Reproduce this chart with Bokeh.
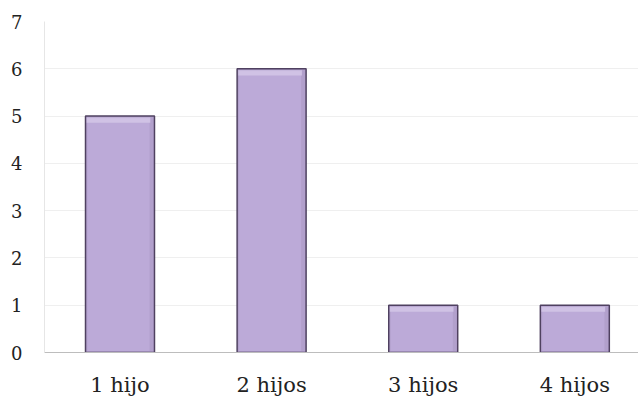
from bokeh.plotting import figure
from bokeh.models import Range1d, FixedTicker
from bokeh.embed import file_html
from bokeh.resources import INLINE

categories = ["1 hijo", "2 hijos", "3 hijos", "4 hijos"]
values = [5, 6, 1, 1]
y_ticks = [0, 1, 2, 3, 4, 5, 6, 7]

xs = list(range(1, len(categories) + 1))
FONT = "DejaVu Serif"

p = figure(width=638, height=399, output_backend="svg", toolbar_location=None,
           x_range=Range1d(0.502, 4.42), y_range=Range1d(0, 7))
p.min_border_left = 44
p.min_border_right = 0
p.min_border_top = 21
p.min_border_bottom = 47
p.outline_line_color = None
p.background_fill_color = "white"
p.border_fill_color = "white"

# bars with a bevelled look
p.vbar(x=xs, top=values, width=0.455, fill_color="#b2a0cc", line_color="#4f4160", line_width=1.5)
p.vbar(x=[x - 0.01 for x in xs], top=[v - 0.06 for v in values], bottom=0.03, width=0.41,
       fill_color="#bcaad8", line_color=None)
p.vbar(x=[x - 0.01 for x in xs], top=[v - 0.03 for v in values], bottom=[v - 0.14 for v in values],
       width=0.42, fill_color="#d5c8e8", line_color=None, fill_alpha=0.8)

p.xgrid.grid_line_color = None
p.ygrid.grid_line_color = "#efefef"
p.ygrid.ticker = FixedTicker(ticks=y_ticks)

p.yaxis.ticker = FixedTicker(ticks=y_ticks)
p.yaxis.axis_line_color = "#e6e6e6"
p.yaxis.major_tick_line_color = None
p.yaxis.minor_tick_line_color = None
p.yaxis.major_label_text_font = FONT
p.yaxis.major_label_text_font_size = "18px"
p.yaxis.major_label_text_color = "#222222"
p.yaxis.major_label_standoff = 16

p.xaxis.ticker = FixedTicker(ticks=xs)
p.xaxis.major_label_overrides = {x: c for x, c in zip(xs, categories)}
p.xaxis.axis_line_color = "#bdbdbd"
p.xaxis.major_tick_line_color = None
p.xaxis.minor_tick_line_color = None
p.xaxis.major_label_text_font = FONT
p.xaxis.major_label_text_font_size = "21px"
p.xaxis.major_label_text_color = "#222222"
p.xaxis.major_label_standoff = 14

open("out.html", "w").write(file_html(p, INLINE))
